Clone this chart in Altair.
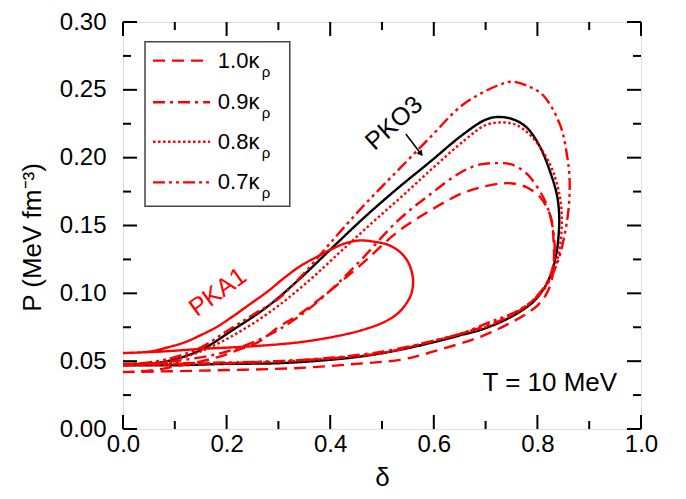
import altair as alt
import pandas as pd

# ---- curve data (delta, P); each loop is traced lower branch -> right end -> upper branch
pko3_d = [0, 0.10, 0.20, 0.30, 0.40, 0.47, 0.53, 0.60, 0.65, 0.69, 0.73, 0.76, 0.79, 0.81, 0.826, 0.836, 0.841, 0.842,
          0.838, 0.826, 0.805, 0.78, 0.755, 0.725, 0.70, 0.656, 0.593, 0.529, 0.466, 0.405, 0.342, 0.278, 0.212, 0.149,
          0.085, 0.04, 0]
pko3_p = [0.047, 0.047, 0.048, 0.0485, 0.051, 0.054, 0.058, 0.064, 0.069, 0.073, 0.079, 0.085, 0.093, 0.102, 0.114,
          0.128, 0.143, 0.158, 0.172, 0.188, 0.208, 0.222, 0.228, 0.230, 0.228, 0.217, 0.197, 0.177, 0.156, 0.134,
          0.111, 0.090, 0.073, 0.058, 0.050, 0.048, 0.048]

pka1_d = [0, 0.07, 0.149, 0.25, 0.342, 0.42, 0.471, 0.505, 0.53, 0.546, 0.556, 0.56, 0.558, 0.549, 0.533, 0.51,
          0.485, 0.458, 0.43, 0.405, 0.375, 0.342, 0.31, 0.278, 0.245, 0.212, 0.18, 0.149, 0.12, 0.085, 0.05, 0]
pka1_p = [0.056, 0.057, 0.059, 0.061, 0.064, 0.069, 0.074, 0.079, 0.085, 0.092, 0.099, 0.107, 0.115, 0.124, 0.131,
          0.136, 0.138, 0.139, 0.137, 0.133, 0.127, 0.120, 0.111, 0.101, 0.092, 0.083, 0.075, 0.069, 0.064, 0.060,
          0.057, 0.056]

k10_d = [0, 0.15, 0.34, 0.45, 0.535, 0.58, 0.625, 0.676, 0.715, 0.747, 0.775, 0.80, 0.815, 0.825, 0.83, 0.832, 0.831,
         0.828, 0.82, 0.805, 0.78, 0.753, 0.73, 0.70, 0.656, 0.593, 0.529, 0.465, 0.40, 0.342, 0.30, 0.261, 0.22,
         0.183, 0.14, 0.10, 0.05, 0]
k10_p = [0.042, 0.043, 0.045, 0.048, 0.051, 0.055, 0.060, 0.066, 0.072, 0.078, 0.084, 0.091, 0.098, 0.106, 0.115,
         0.125, 0.140, 0.153, 0.162, 0.171, 0.178, 0.181, 0.181, 0.179, 0.174, 0.161, 0.145, 0.123, 0.102, 0.085,
         0.075, 0.064, 0.058, 0.053, 0.049, 0.046, 0.043, 0.042]

k09_d = [0, 0.10, 0.20, 0.30, 0.40, 0.50, 0.60, 0.65, 0.70, 0.74, 0.78, 0.81, 0.826, 0.833, 0.832, 0.824, 0.811,
         0.78, 0.75, 0.72, 0.69, 0.656, 0.593, 0.529, 0.458, 0.40, 0.34, 0.28, 0.20, 0.10, 0]
k09_p = [0.047, 0.048, 0.0485, 0.050, 0.0525, 0.057, 0.065, 0.070, 0.076, 0.082, 0.091, 0.103, 0.114, 0.128, 0.142,
         0.158, 0.171, 0.188, 0.195, 0.196, 0.195, 0.190, 0.173, 0.153, 0.124, 0.102, 0.083, 0.069, 0.057, 0.050,
         0.047]

k08_d = [0, 0.10, 0.20, 0.30, 0.40, 0.50, 0.60, 0.65, 0.70, 0.76, 0.80, 0.826, 0.84, 0.846, 0.847, 0.843, 0.83,
         0.81, 0.785, 0.76, 0.734, 0.70, 0.66, 0.60, 0.54, 0.478, 0.418, 0.355, 0.29, 0.222, 0.155, 0.09, 0.04, 0]
k08_p = [0.047, 0.0475, 0.0485, 0.0495, 0.052, 0.056, 0.065, 0.070, 0.075, 0.086, 0.098, 0.112, 0.127, 0.143, 0.158,
         0.172, 0.190, 0.205, 0.217, 0.224, 0.226, 0.224, 0.213, 0.193, 0.172, 0.151, 0.130, 0.108, 0.088, 0.071,
         0.058, 0.050, 0.048, 0.047]

k07_d = [0, 0.10, 0.20, 0.30, 0.40, 0.50, 0.60, 0.65, 0.703, 0.766, 0.811, 0.838, 0.853, 0.861, 0.862, 0.857, 0.844,
         0.811, 0.78, 0.751, 0.722, 0.656, 0.593, 0.529, 0.463, 0.40, 0.35, 0.30, 0.25, 0.20, 0.15, 0.10, 0.05, 0]
k07_p = [0.048, 0.0485, 0.049, 0.050, 0.052, 0.056, 0.065, 0.070, 0.078, 0.088, 0.102, 0.122, 0.144, 0.166, 0.185,
         0.202, 0.224, 0.246, 0.253, 0.256, 0.253, 0.239, 0.215, 0.190, 0.164, 0.137, 0.115, 0.096, 0.084, 0.072,
         0.060, 0.053, 0.049, 0.048]

series_names = ["PKO3", "PKA1", "k10", "k09", "k08", "k07"]
series_colors = ["black", "red", "red", "red", "red", "red"]
series_dashes = [[1, 0], [1, 0], [12, 7], [12, 5, 3, 5], [2.5, 2.5], [12, 4, 3, 4, 3, 4]]
curves_xy = [(pko3_d, pko3_p), (pka1_d, pka1_p), (k10_d, k10_p), (k09_d, k09_p), (k08_d, k08_p), (k07_d, k07_p)]

# legend entries
legend_series = ["k10", "k09", "k08", "k07"]
legend_labels = ["1.0κ", "0.9κ", "0.8κ", "0.7κ"]
legend_rows_p = [0.2715, 0.2409, 0.2117, 0.1818]
legend_line_d = [0.058, 0.168]
legend_text_d = 0.183
legend_box = [0.0425, 0.322, 0.2854, 0.1642]

# ticks
x_major = [0.0, 0.2, 0.4, 0.6, 0.8, 1.0]
x_minor = [0.1, 0.3, 0.5, 0.7, 0.9]
y_major = [0.00, 0.05, 0.10, 0.15, 0.20, 0.25, 0.30]
y_minor = [0.025, 0.075, 0.125, 0.175, 0.225, 0.275]

# annotations
ann_text = ["PKA1", "PKO3"]
ann_d = [0.183, 0.523]
ann_p = [0.101, 0.2255]
ann_color = ["red", "black"]
ann_angle = [324, 318]
arrow_d = [0.546, 0.575]
arrow_p = [0.2175, 0.2029]
temp_label = "T = 10 MeV"
temp_pos = (0.954, 0.0336)

W, H = 518, 407
FONT = "Liberation Sans"

rows = []
for name, (ds, ps) in zip(series_names, curves_xy):
    for i, (d, p) in enumerate(zip(ds, ps)):
        rows.append({"series": name, "i": i, "d": d, "p": p})
df = pd.DataFrame(rows)

xs = alt.Scale(domain=[0, 1], nice=False, zero=False)
ys = alt.Scale(domain=[0, 0.3], nice=False, zero=False)
xaxis = alt.Axis(values=x_major, format=".1f", ticks=False, tickSize=0, domain=False, grid=False,
                 labelFontSize=24, labelFont=FONT, labelColor="black", labelPadding=3, labelFlush=False,
                 labelOverlap=False,
                 title="δ", titleFont=FONT, titleFontSize=26, titleFontWeight="normal", titleColor="black",
                 titleY=48, titleBaseline="middle")
yaxis = alt.Axis(values=y_major, format=".2f", ticks=False, tickSize=0, domain=False, grid=False,
                 labelFontSize=24, labelFont=FONT, labelColor="black", labelPadding=17, labelFlush=False,
                 labelOverlap=False,
                 title="P (MeV fm⁻³)", titleFont=FONT, titleFontSize=26, titleFontWeight="normal",
                 titleColor="black", titleAngle=270, titleX=-91, titleY=215, titleAlign="center",
                 titleBaseline="middle")

def X(field="d"):
    return alt.X(f"{field}:Q", scale=xs, axis=xaxis)

def Y(field="p"):
    return alt.Y(f"{field}:Q", scale=ys, axis=yaxis)

cscale = alt.Scale(domain=series_names, range=series_colors)
dscale = alt.Scale(domain=series_names, range=series_dashes)

curves = alt.Chart(df).mark_line(strokeWidth=2.4, strokeCap="butt", clip=True,
                                 interpolate="catmull-rom").encode(
    x=X(), y=Y(), order="i:Q",
    color=alt.Color("series:N", scale=cscale, legend=None),
    strokeDash=alt.StrokeDash("series:N", scale=dscale, legend=None),
)

# inward ticks
def ticks_x(vals, length, top):
    t = pd.DataFrame({"d": vals})
    if top:
        enc = dict(y=alt.value(0), y2=alt.value(length))
    else:
        enc = dict(y=alt.value(H), y2=alt.value(H - length))
    return alt.Chart(t).mark_rule(color="black", strokeWidth=2).encode(x=X(), **enc)

def ticks_y(vals, length, right):
    t = pd.DataFrame({"p": vals})
    if right:
        enc = dict(x=alt.value(W), x2=alt.value(W - length))
    else:
        enc = dict(x=alt.value(0), x2=alt.value(length))
    return alt.Chart(t).mark_rule(color="black", strokeWidth=2).encode(y=Y(), **enc)

tick_layers = [ticks_x(x_major, 14, False), ticks_x(x_minor, 8, False),
               ticks_x(x_major, 14, True), ticks_x(x_minor, 8, True),
               ticks_y(y_major, 14, False), ticks_y(y_minor, 8, False),
               ticks_y(y_major, 14, True), ticks_y(y_minor, 8, True)]

# legend box
box_df = pd.DataFrame({"d": [legend_box[0]], "d2": [legend_box[1]], "p": [legend_box[2]], "p2": [legend_box[3]]})
box = alt.Chart(box_df).mark_rect(fill="white", stroke="#444", strokeWidth=1.5).encode(
    x=X(), x2="d2:Q", y=Y(), y2="p2:Q")

leg_df = pd.DataFrame({"series": legend_series, "label": legend_labels, "p": legend_rows_p,
                       "d": [legend_line_d[0]] * 4, "d2": [legend_line_d[1]] * 4,
                       "dt": [legend_text_d] * 4, "sub": ["ρ"] * 4})
leg_lines = alt.Chart(leg_df).mark_rule(strokeWidth=2.4, strokeCap="butt").encode(
    x=X(), x2="d2:Q", y=Y(),
    color=alt.Color("series:N", scale=cscale, legend=None),
    strokeDash=alt.StrokeDash("series:N", scale=dscale, legend=None),
)
leg_text = alt.Chart(leg_df).mark_text(align="left", baseline="middle", font=FONT, fontSize=22,
                                       color="black").encode(x=X("dt"), y=Y(), text="label:N")
leg_sub = alt.Chart(leg_df).mark_text(align="left", baseline="middle", font=FONT, fontSize=15,
                                      color="black", dx=44, dy=11).encode(x=X("dt"), y=Y(), text="sub:N")

ann_df = pd.DataFrame({"t": ann_text, "d": ann_d, "p": ann_p, "c": ann_color, "a": ann_angle})
ann = alt.Chart(ann_df).mark_text(align="center", baseline="middle", font=FONT, fontSize=25).encode(
    x=X(), y=Y(), text="t:N",
    color=alt.Color("c:N", scale=None, legend=None),
    angle=alt.Angle("a:Q", scale=None),
)

arr_df = pd.DataFrame({"d": [arrow_d[0]], "d2": [arrow_d[1]], "p": [arrow_p[0]], "p2": [arrow_p[1]]})
arrow_line = alt.Chart(arr_df).mark_rule(color="black", strokeWidth=1.5).encode(
    x=X(), x2="d2:Q", y=Y(), y2="p2:Q")
head_df = pd.DataFrame({"d": [arrow_d[1]], "p": [arrow_p[1]]})
arrow_head = alt.Chart(head_df).mark_point(shape="triangle-up", filled=True, size=45, color="black",
                                           opacity=1, angle=143).encode(x=X(), y=Y())

temp_df = pd.DataFrame({"t": [temp_label], "d": [temp_pos[0]], "p": [temp_pos[1]]})
temp = alt.Chart(temp_df).mark_text(align="right", baseline="middle", font=FONT, fontSize=26,
                                    color="black").encode(x=X(), y=Y(), text="t:N")

chart = alt.layer(
    curves, *tick_layers, box, leg_lines, leg_text, leg_sub, ann, arrow_line, arrow_head, temp
).properties(
    width=W, height=H,
    autosize=alt.AutoSizeParams(type="none"),
    padding={"left": 115, "top": 14, "right": 37, "bottom": 62},
).configure_view(stroke="black", strokeWidth=2).configure(background="white")

chart.save("out.html", embed_options={"renderer": "svg", "actions": False})
